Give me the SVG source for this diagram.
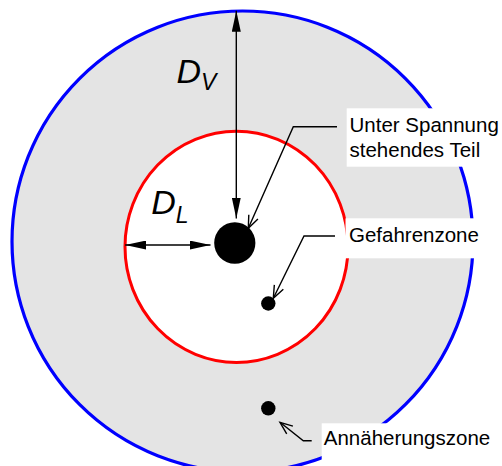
<svg xmlns="http://www.w3.org/2000/svg" width="502" height="466" viewBox="0 0 502 466">
<style>
.lbl{font-family:"Liberation Sans",Arial,sans-serif;font-size:20.5px;fill:#000}
.dim{font-family:"Liberation Sans",Arial,sans-serif;font-style:italic;fill:#000}
.box{fill:#fff;stroke:none}
.dl{stroke:#000;stroke-width:1.4;fill:none}
.ld{stroke:#000;stroke-width:1.4;fill:none}
</style>
<defs>
<marker id="ah" viewBox="0 0 21 9" refX="21" refY="4.5" markerWidth="21" markerHeight="9" markerUnits="userSpaceOnUse" orient="auto-start-reverse">
<path d="M0,0 L21,4.5 L0,9 z" fill="#000"/>
</marker>
<marker id="oa" viewBox="-14 -7 16 14" refX="0" refY="0" markerWidth="16" markerHeight="14" markerUnits="userSpaceOnUse" orient="auto">
<path d="M-12.5,-5 L0,0 L-12.5,5" fill="none" stroke="#000" stroke-width="1.4"/>
</marker>
</defs>
<rect width="502" height="466" fill="#fff"/>
<g id="annaeherungszone-area">
<circle cx="242.5" cy="241.5" r="230.5" fill="#e4e4e4" stroke="#0000ff" stroke-width="3.2"/>
</g>
<g id="gefahrenzone-area">
<ellipse cx="236.5" cy="246.8" rx="111.5" ry="115.6" fill="#fff" stroke="#ff0000" stroke-width="3"/>
</g>
<g id="live-part">
<ellipse cx="234.8" cy="243" rx="20.6" ry="20.8" fill="#000"/>
</g>
<g id="point-gefahrenzone">
<circle cx="268.3" cy="303.5" r="7.2" fill="#000"/>
</g>
<g id="point-annaeherungszone">
<circle cx="268.3" cy="408.3" r="7.2" fill="#000"/>
</g>
<g id="connectors">
<line class="dl" x1="236.3" y1="10.8" x2="236.3" y2="218.5" marker-start="url(#ah)" marker-end="url(#ah)"/>
<line class="dl" x1="125.2" y1="245" x2="210.5" y2="245" marker-start="url(#ah)" marker-end="url(#ah)"/>
<polyline class="ld" points="337,126.7 293.3,126.7 248.3,228.3" marker-end="url(#oa)"/>
<polyline class="ld" points="335,236 304,236 273.3,298.3" marker-end="url(#oa)"/>
<polyline class="ld" points="311.7,440.7 303.3,440.7 280,422.3" marker-end="url(#oa)"/>
</g>
<g id="label-dv">
<text class="dim" x="176.5" y="83.3" font-size="34">D<tspan font-size="23" dy="6.5">V</tspan></text>
</g>
<g id="label-dl">
<text class="dim" x="151.2" y="214.3" font-size="34">D<tspan font-size="23" dy="9">L</tspan></text>
</g>
<g id="label-live-part">
<rect class="box" x="346.7" y="108.3" width="155.3" height="58.4"/>
<text class="lbl" x="349.5" y="132.3">Unter Spannung</text>
<text class="lbl" x="349.5" y="156.7">stehendes Teil</text>
</g>
<g id="label-gefahrenzone">
<rect class="box" x="345.5" y="218.3" width="141" height="40"/>
<text class="lbl" x="349" y="241.7">Gefahrenzone</text>
</g>
<g id="label-annaeherungszone">
<rect class="box" x="321.7" y="423.3" width="180.3" height="42.7"/>
<text class="lbl" x="323.8" y="445">Annäherungszone</text>
</g>
</svg>
